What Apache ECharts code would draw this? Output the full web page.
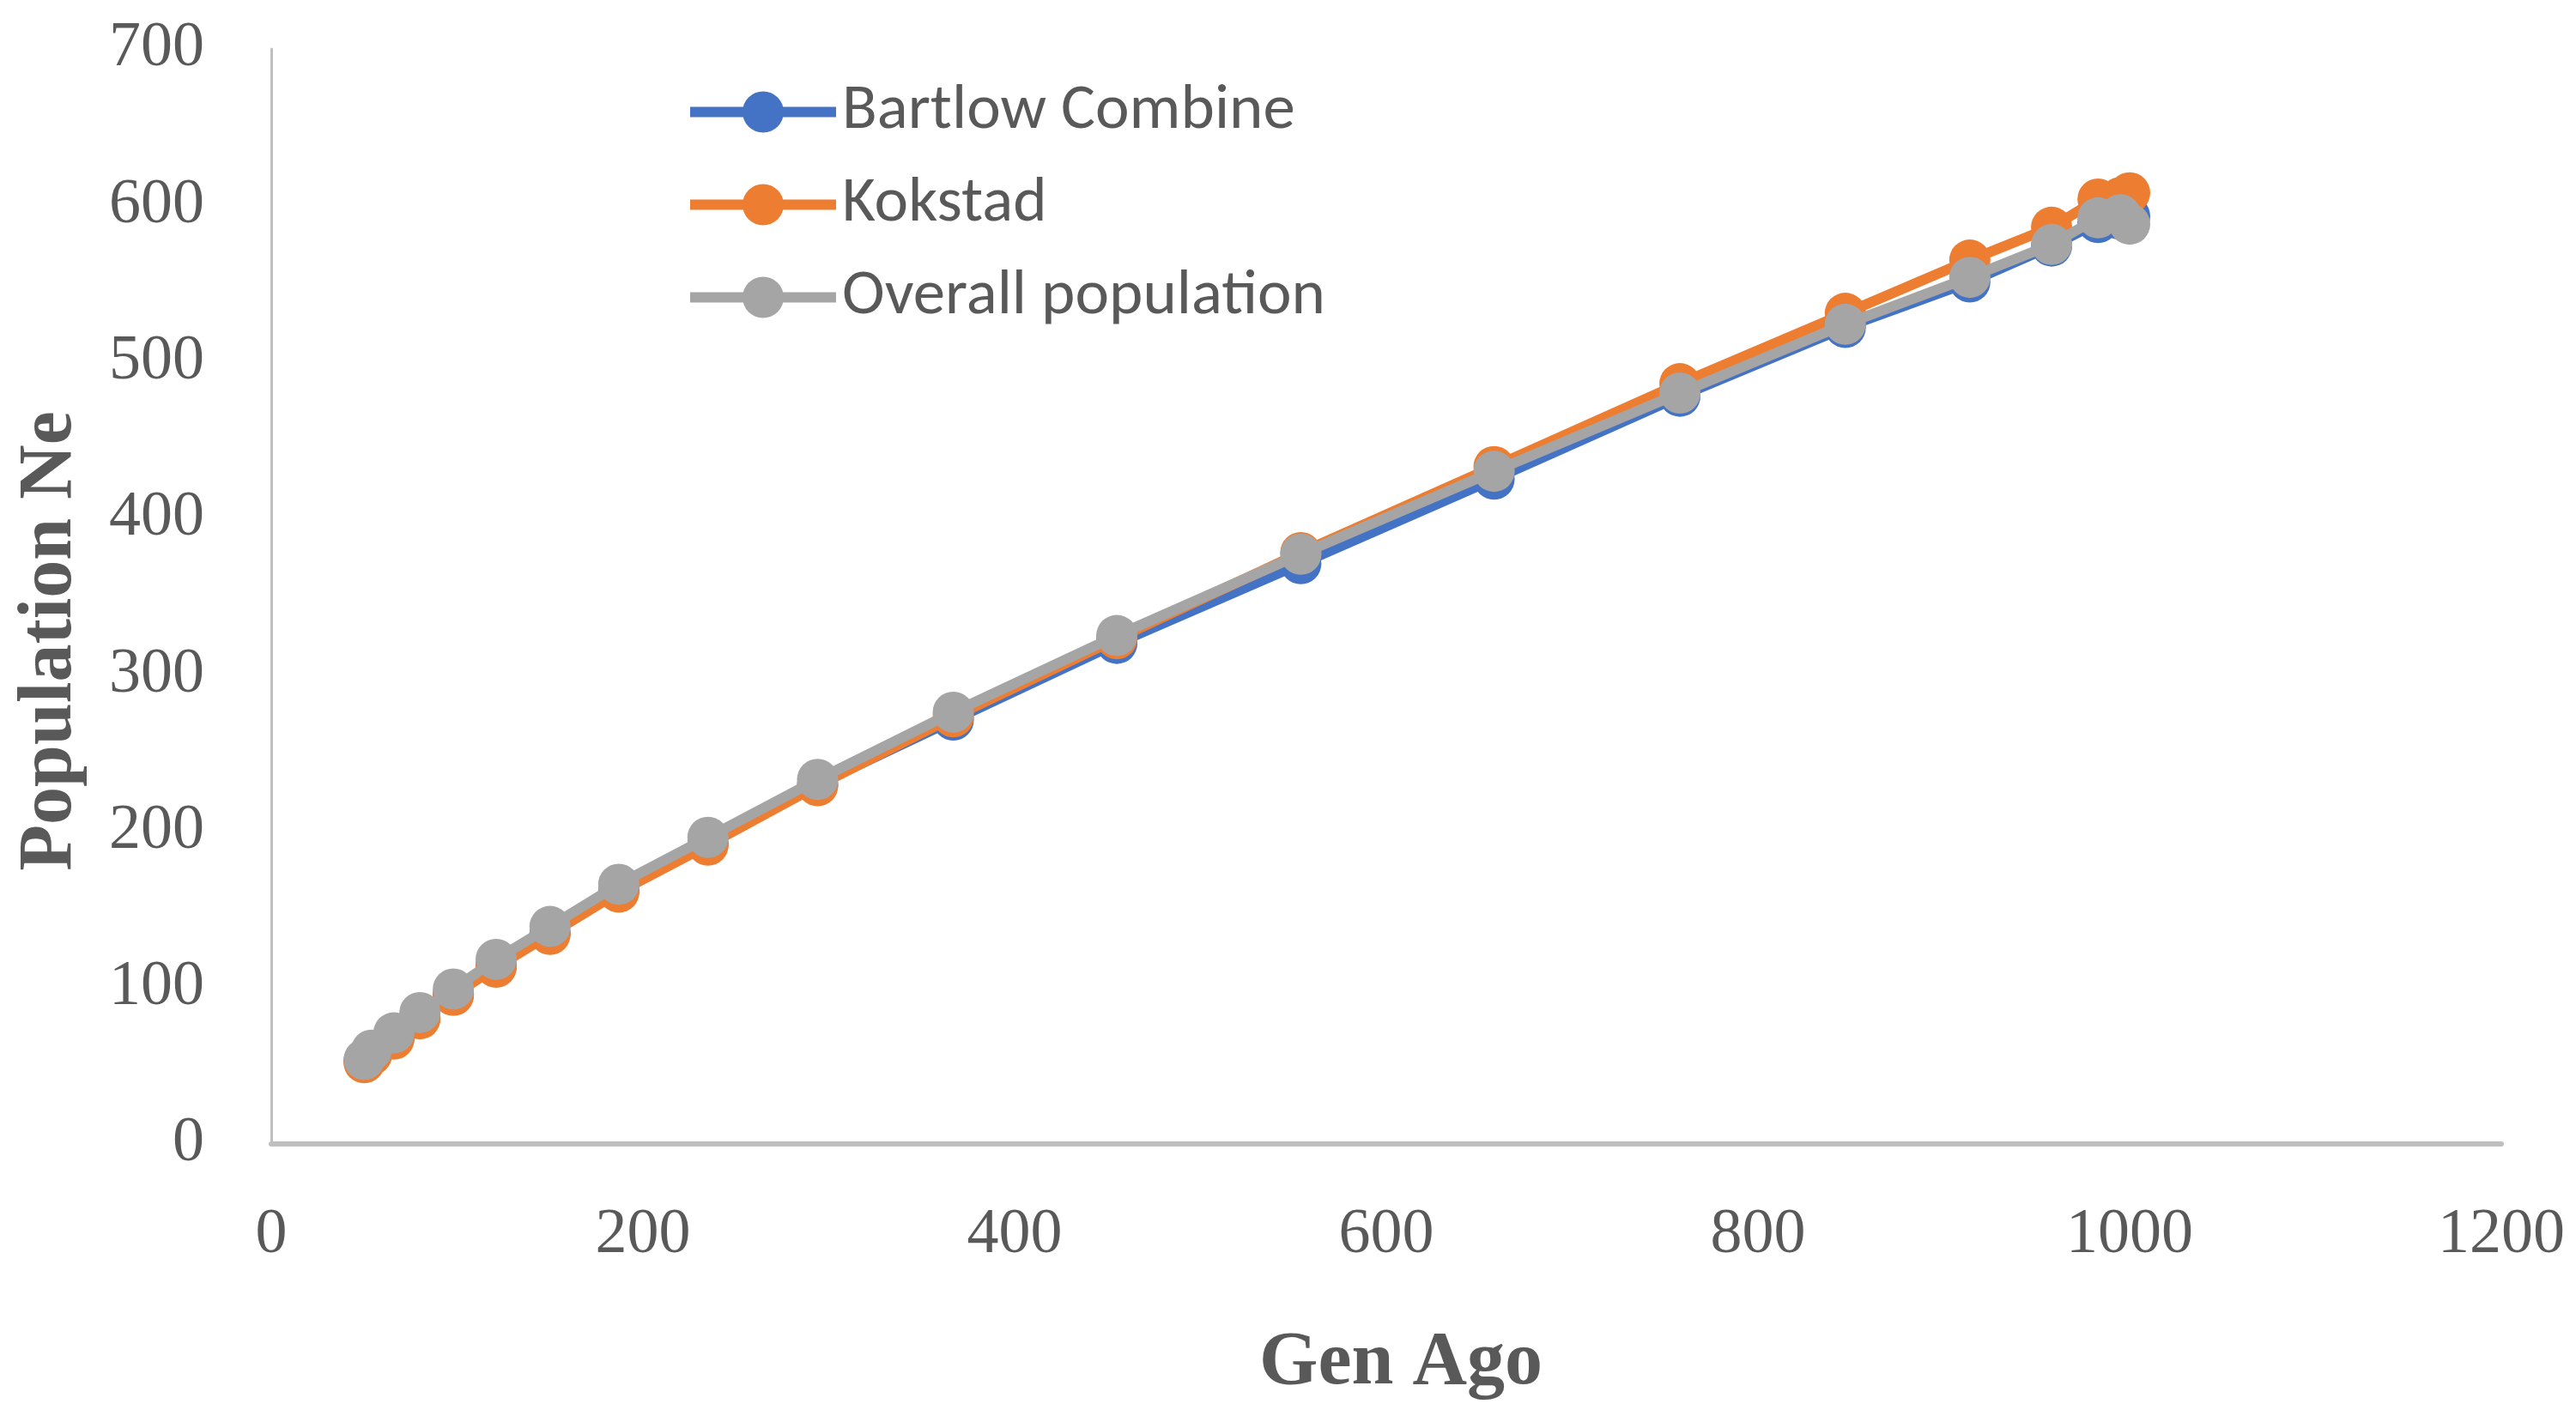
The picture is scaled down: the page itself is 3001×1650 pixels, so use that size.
<!DOCTYPE html>
<html>
<head>
<meta charset="utf-8">
<script src="https://cdn.jsdelivr.net/npm/echarts@6/dist/echarts.min.js"></script>
<style>html,body{margin:0;padding:0;background:#fff;}#c{width:3001px;height:1650px;}</style>
</head>
<body>
<div id="c"></div>
<script>
var seriesNames = ['Bartlow Combine', 'Kokstad', 'Overall population'];
var genAgo   = [50, 54, 66, 80, 98, 121, 150, 187, 235, 294, 367, 455, 554, 658, 758, 847, 914, 958, 983, 995, 1000];
var bartlow  = [53, 58, 68, 81, 96, 114, 135, 162, 192, 230, 271, 320, 371, 425, 478, 522, 551, 574, 589, 591, 593];
var kokstad  = [52, 57, 67, 80, 95, 113, 134, 161, 191, 229, 273, 323, 378, 433, 486, 531, 565, 586, 604, 605, 608];
var overall  = [54, 60, 71, 84, 99, 118, 139, 166, 196, 233, 276, 325, 377, 430, 480, 524, 554, 575, 592, 594, 588];
var colors = ['#4472C4', '#ED7D31', '#A5A5A5'];

function pairs(ys){ return genAgo.map(function(x,i){ return [x, ys[i]]; }); }
var values = [bartlow, kokstad, overall];

var chart = echarts.init(document.getElementById('c'), null, {renderer:'canvas'});
var serif = '"Liberation Serif", "Times New Roman", serif';
chart.setOption({
  animation: false,
  backgroundColor: '#ffffff',
  color: colors,
  grid: {left: 316, right: 87, top: 57, bottom: 317, containLabel: false},
  legend: {
    orient: 'vertical',
    left: 793, top: 88,
    itemWidth: 170, itemHeight: 60, itemGap: 33,
    lineStyle: {width: 12},
    textStyle: {fontFamily: 'Carlito, Lato, sans-serif', fontSize: 75, color: '#595959', padding: [0,0,0,2]},
    data: seriesNames
  },
  xAxis: {
    type: 'value', min: 0, max: 1200, interval: 200,
    name: 'Gen Ago', nameLocation: 'middle', nameGap: 212,
    nameTextStyle: {fontFamily: serif, fontSize: 88, fontWeight: 'bold', color: '#595959', padding: [0,0,0,34]},
    axisLine: {show: true, lineStyle: {color: '#BFBFBF', width: 6}},
    axisTick: {show: false},
    splitLine: {show: false},
    axisLabel: {fontFamily: serif, fontSize: 74, color: '#595959', margin: 70, formatter: function(v){ return String(v); }}
  },
  yAxis: {
    type: 'value', min: 0, max: 700, interval: 100,
    name: 'Population Ne', nameLocation: 'middle', nameGap: 213,
    nameTextStyle: {fontFamily: serif, fontSize: 88, fontWeight: 'bold', color: '#595959', padding: [0,104,0,0]},
    axisLine: {show: true, lineStyle: {color: '#BFBFBF', width: 3}},
    axisTick: {show: false},
    splitLine: {show: false},
    axisLabel: {fontFamily: serif, fontSize: 74, color: '#595959', margin: 78, formatter: function(v){ return String(v); }}
  },
  series: values.map(function(v, i){
    return {
      name: seriesNames[i], type: 'line', z: 2 + i,
      data: pairs(v),
      symbol: 'circle', symbolSize: 48, showSymbol: true,
      lineStyle: {width: 12, color: colors[i]},
      itemStyle: {color: colors[i]},
      emphasis: {disabled: true}
    };
  })
});
</script>
</body>
</html>
